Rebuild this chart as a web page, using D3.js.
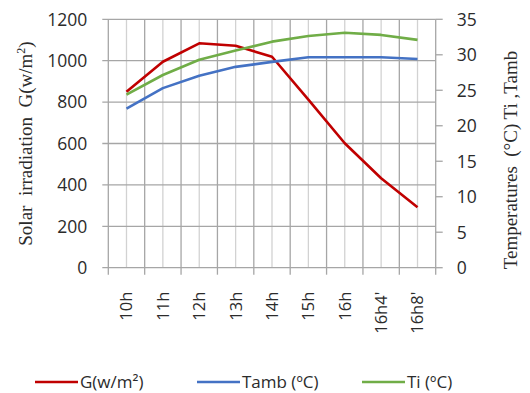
<!DOCTYPE html>
<html>
<head>
<meta charset="utf-8">
<script src="https://cdn.jsdelivr.net/npm/d3@7"></script>
<style>
  body { margin: 0; background: #fff; }
  text { font-family: "Open Sans", "Liberation Sans", sans-serif; fill: #2b2b2b; }
</style>
</head>
<body>
<script>
// data
var hours = ["10h", "11h", "12h", "13h", "14h", "15h", "16h", "16h4'", "16h8'"];
var irradiation = [850, 995, 1084, 1072, 1019, 812, 601, 432, 292];
var tamb = [22.4, 25.3, 27.05, 28.3, 29.0, 29.65, 29.65, 29.65, 29.4];
var ti = [24.4, 27.15, 29.3, 30.6, 31.85, 32.65, 33.1, 32.8, 32.1];
var leftTicks = [0, 200, 400, 600, 800, 1000, 1200];
var rightTicks = [0, 5, 10, 15, 20, 25, 30, 35];

var W = 530, H = 393;
var margin = {left: 108.3, right: 94.3, top: 19.3, bottom: 125.3},
    width = W - margin.left - margin.right,
    height = H - margin.top - margin.bottom;

var svg = d3.select("body").append("svg")
    .attr("width", W)
    .attr("height", H);

var g = svg.append("g")
    .attr("transform", "translate(" + margin.left + "," + margin.top + ")");

var x = d3.scaleBand().domain(hours).range([0, width]);
var yL = d3.scaleLinear().domain([0, 1200]).range([height, 0]);
var yR = d3.scaleLinear().domain([0, 35]).range([height, 0]);

var gridDark = "#a6a6a6", gridLight = "#d2d2d2";

// vertical grid: light at category centres, dark at boundaries
g.selectAll(".vc").data(hours).enter().append("line")
    .attr("x1", function(d) { return x(d) + x.bandwidth() / 2; })
    .attr("x2", function(d) { return x(d) + x.bandwidth() / 2; })
    .attr("y1", 0).attr("y2", height)
    .attr("stroke", gridLight).attr("stroke-width", 1.3);

var bounds = hours.map(function(d) { return x(d); }).concat([width]);
g.selectAll(".vb").data(bounds).enter().append("line")
    .attr("x1", function(d) { return d; })
    .attr("x2", function(d) { return d; })
    .attr("y1", 0).attr("y2", height + 7)
    .attr("stroke", gridDark).attr("stroke-width", 1.3);

// horizontal grid on left ticks, with outward tick marks
g.selectAll(".hg").data(leftTicks).enter().append("line")
    .attr("x1", -6).attr("x2", width)
    .attr("y1", function(d) { return yL(d); })
    .attr("y2", function(d) { return yL(d); })
    .attr("stroke", gridDark).attr("stroke-width", 1.3);

// right axis ticks
g.selectAll(".rt").data(rightTicks).enter().append("line")
    .attr("x1", width).attr("x2", width + 7)
    .attr("y1", function(d) { return yR(d); })
    .attr("y2", function(d) { return yR(d); })
    .attr("stroke", gridDark).attr("stroke-width", 1.3);

// tick labels
g.selectAll(".lt").data(leftTicks).enter().append("text")
    .attr("x", -21)
    .attr("y", function(d) { return yL(d); })
    .attr("dy", "0.36em")
    .attr("text-anchor", "end")
    .style("font-size", "17.5px")
    .text(function(d) { return d; });

g.selectAll(".rl").data(rightTicks).enter().append("text")
    .attr("x", width + 21)
    .attr("y", function(d) { return yR(d); })
    .attr("dy", "0.36em")
    .style("font-size", "17.5px")
    .text(function(d) { return d; });

g.selectAll(".xl").data(hours).enter().append("text")
    .attr("transform", function(d) {
      return "translate(" + (x(d) + x.bandwidth() / 2) + "," + (height + 24) + ") rotate(-90)";
    })
    .attr("dy", "0.36em")
    .attr("text-anchor", "end")
    .style("font-size", "16.5px")
    .text(function(d) { return d; });

// lines
var cx = function(d, i) { return x(hours[i]) + x.bandwidth() / 2; };
var series = [
  {vals: irradiation, y: yL, color: "#c00000"},
  {vals: tamb, y: yR, color: "#4472c4"},
  {vals: ti, y: yR, color: "#70ad47"}
];
series.forEach(function(s) {
  var line = d3.line()
      .x(cx)
      .y(function(d) { return s.y(d); });
  g.append("path")
      .datum(s.vals)
      .attr("d", line)
      .attr("fill", "none")
      .attr("stroke", s.color)
      .attr("stroke-width", 2.6)
      .attr("stroke-linejoin", "round");
});

// axis titles
var leftTitle = svg.append("text")
    .attr("transform", "translate(32," + (margin.top + height / 2) + ") rotate(-90)")
    .attr("text-anchor", "middle")
    .style("font-family", "'Liberation Serif', 'DejaVu Serif', serif")
    .style("font-size", "19px")
    .attr("xml:space", "preserve");
leftTitle.append("tspan").text("Solar  irradiation  G(w/m");
leftTitle.append("tspan").attr("dy", -7).style("font-size", "12px").text("2");
leftTitle.append("tspan").attr("dy", 7).text(")");

svg.append("text")
    .attr("transform", "translate(517," + 160 + ") rotate(-90)")
    .attr("text-anchor", "middle")
    .style("font-family", "'Liberation Serif', 'DejaVu Serif', serif")
    .style("font-size", "19px")
    .attr("xml:space", "preserve")
    .text("Temperatures  (\u00b0C) Ti ,Tamb");

// legend
var legendItems = [
  {label: "G(w/m\u00b2)", color: "#c00000", x: 35},
  {label: "Tamb (\u00baC)", color: "#4472c4", x: 197},
  {label: "Ti (\u00baC)", color: "#70ad47", x: 362}
];
var legend = svg.append("g").attr("transform", "translate(0,382)");
legend.selectAll("line").data(legendItems).enter().append("line")
    .attr("x1", function(d) { return d.x; })
    .attr("x2", function(d) { return d.x + 43; })
    .attr("y1", 0).attr("y2", 0)
    .attr("stroke", function(d) { return d.color; })
    .attr("stroke-width", 2.6);
legend.selectAll("text").data(legendItems).enter().append("text")
    .attr("x", function(d) { return d.x + 45; })
    .attr("y", 0)
    .attr("dy", "0.36em")
    .style("font-size", "17px")
    .text(function(d) { return d.label; });
</script>
</body>
</html>
